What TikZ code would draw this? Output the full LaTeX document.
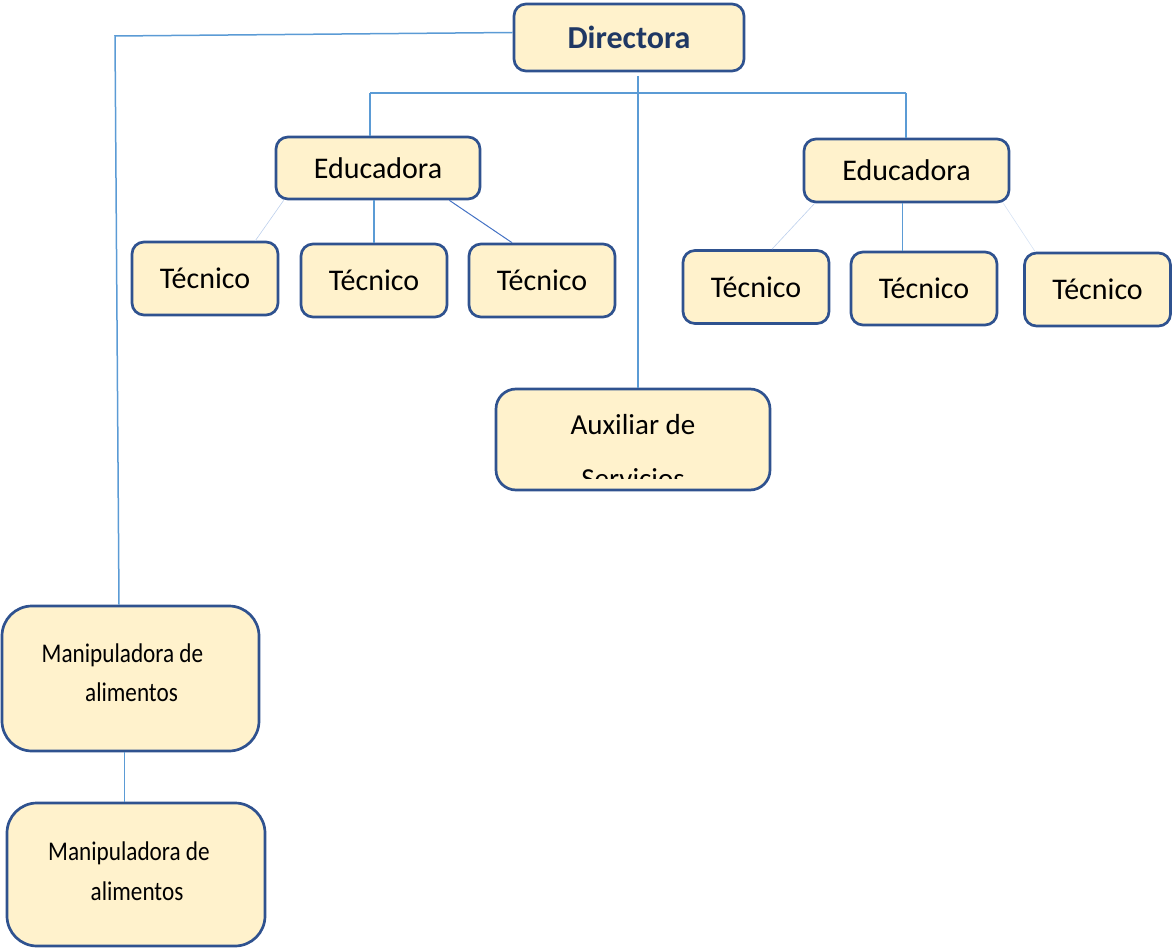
\documentclass[tikz,border=0pt]{standalone}
\usepackage{fontspec}
\setmainfont{Carlito}
\newfontfamily\narrowfont{Carlito}[FakeStretch=0.86]
\definecolor{boxline}{HTML}{2F528F}
\definecolor{boxfill}{HTML}{FFF2CC}
\definecolor{linkline}{HTML}{5B9BD5}
\definecolor{thinline}{HTML}{4472C4}
\definecolor{faintline}{HTML}{BDD0EC}
\definecolor{headtext}{HTML}{1F3864}
\def\thecorner{12pt}

\begin{document}
\begin{tikzpicture}[
    x=1pt,y=-1pt,
    thebox/.style={draw=boxline,fill=boxfill,line width=2.7pt,rounded corners=\thecorner,
      inner sep=0pt,font=\fontsize{30}{36}\selectfont},
    thetext/.style={inner sep=0pt,anchor=base,font=\narrowfont\fontsize{27}{32}\selectfont},
    thelink/.style={draw=linkline,line width=1.5pt},
    thethin/.style={draw=thinline,line width=1pt},
    thefaint/.style={draw=faintline,line width=0.6pt}
    ]
    \useasboundingbox (0,0) rectangle (1172,949);

    \node[thebox,minimum width=230pt,minimum height=67pt,
      font=\fontsize{32}{38}\selectfont\bfseries,text=headtext] (dir) at (629,37.5) {Directora};
    \node[thebox,minimum width=204pt,minimum height=62pt] (edu1) at (378,168) {Educadora};
    \node[thebox,minimum width=205pt,minimum height=63pt] (edu2) at (906.5,170.5) {Educadora};

    \foreach \n/\x/\y in {t1/205/278.5,t2/374/280.5,t3/542/280.5,
      t4/756/287,t5/924/288.5,t6/1097.5/289.5} {
      \node[thebox,minimum width=146pt,minimum height=73pt] (\n) at (\x,\y) {Técnico};
    }

    \node[thebox,rounded corners=20pt,minimum width=274pt,minimum height=101pt] (aux) at (633,439.5) {};
    \begin{scope}
      \clip (497,391) rectangle (769,478);
      \node[thetext,font=\fontsize{29}{34}\selectfont] (auxa) at (633,434) {Auxiliar de};
      \node[thetext,font=\fontsize{29}{34}\selectfont] (auxb) at (633,488) {Servicios};
    \end{scope}

    \node[thebox,rounded corners=30pt,minimum width=257pt,minimum height=145pt] (man1) at (130.5,678.5) {};
    \node[thetext] (man1a) at (122.5,662) {Manipuladora de};
    \node[thetext] (man1b) at (131.5,701) {alimentos};
    \node[thebox,rounded corners=30pt,minimum width=258pt,minimum height=143pt] (man2) at (136,874.5) {};
    \node[thetext] (man2a) at (129,860) {Manipuladora de};
    \node[thetext] (man2b) at (137,900) {alimentos};

    % lines from the top
    \coordinate (c1) at (115,36);
    \coordinate (dtop) at (638,76);
    \coordinate (busl) at (370,93);
    \coordinate (busr) at (906,93);
    \draw[thelink] ([yshift=5pt]dir.west) -- (c1) -- ([xshift=4pt]c1 |- man1.north);
    \draw[thelink] (dtop) -- (dtop |- aux.north);
    \draw[thelink] (busl) -- (busr);
    \draw[thelink] (busl) -- (busl |- edu1.north);
    \draw[thelink] (busr) -- (busr |- edu2.north);

    \draw[thefaint] ([xshift=9pt]edu1.south west) -- ([xshift=-24pt]t1.north east);
    \draw[thelink] (edu1.south -| t2.north) -- (t2.north);
    \draw[thethin] ([xshift=-32pt]edu1.south east) -- ([xshift=-30pt]t3.north);

    \draw[thefaint] ([xshift=12pt]edu2.south west) -- ([xshift=16pt]t4.north);
    \draw[thethin,draw=linkline] ([xshift=-4pt]edu2.south) -- ([xshift=-4pt]edu2.south |- t5.north);
    \draw[thefaint,draw=faintline!60] ([xshift=-7pt]edu2.south east) -- ([xshift=12pt]t6.north west);

    \draw[thelink] ([xshift=-6pt]man1.south) -- ([xshift=-6pt]man1.south |- man2.north);
  \end{tikzpicture}
\end{document}
